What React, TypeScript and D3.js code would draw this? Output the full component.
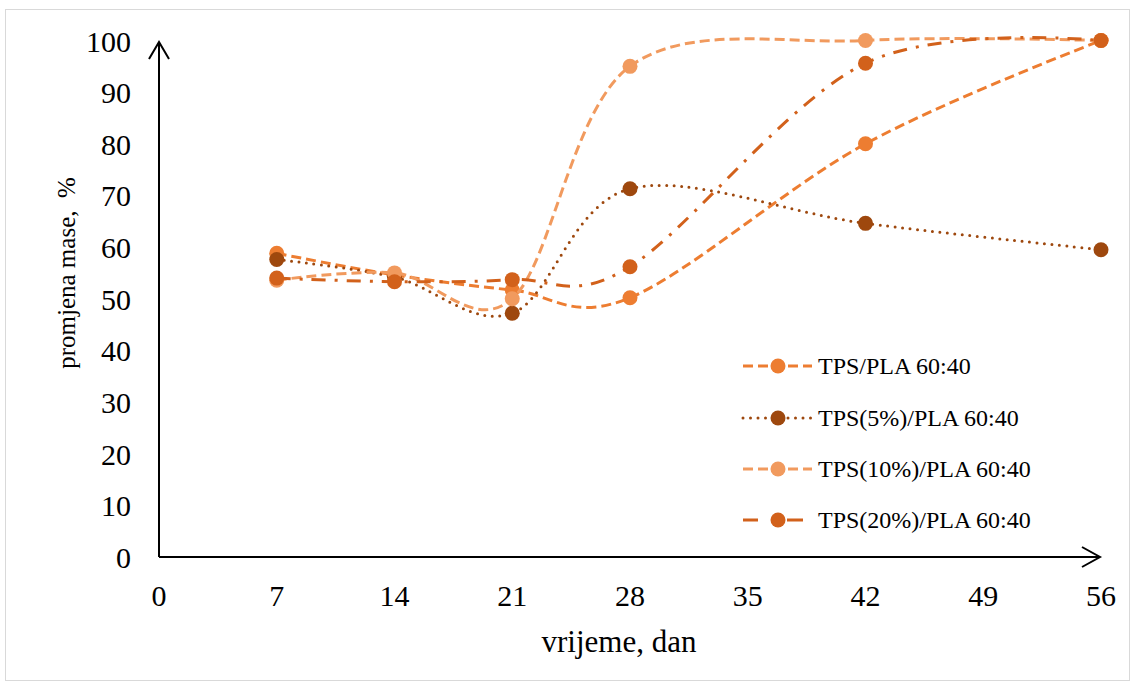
import React from "react";
import * as d3 from "d3";

const days = [7, 14, 21, 28, 42, 56];
const tpsPla = [58.8, 54.6, 51.7, 50.2, 80.0, 100];
const tps5 = [57.6, 54.2, 47.2, 71.3, 64.6, 59.5];
const tps10 = [53.6, 55.0, 50.0, 95.0, 100, 100];
const tps20 = [54.0, 53.3, 53.7, 56.2, 95.6, 100];
const xTicks = [0, 7, 14, 21, 28, 35, 42, 49, 56];
const yTicks = [0, 10, 20, 30, 40, 50, 60, 70, 80, 90, 100];
const seriesNames = ["TPS/PLA 60:40", "TPS(5%)/PLA 60:40", "TPS(10%)/PLA 60:40", "TPS(20%)/PLA 60:40"];

const W = 1135;
const H = 686;
const FONT = "'Liberation Serif', 'Times New Roman', serif";

const series = [
  { name: seriesNames[0], values: tpsPla, color: "#ED7D31", dash: "10 5", legendDash: "10 5", cap: "butt" },
  { name: seriesNames[1], values: tps5, color: "#9E480E", dash: "0 7.5", legendDash: "0 7.5", cap: "round" },
  { name: seriesNames[2], values: tps10, color: "#F19A5E", dash: "10 5", legendDash: "10 5", cap: "butt" },
  { name: seriesNames[3], values: tps20, color: "#D2611B", dash: "14 9 3 9", legendDash: "15 29 16 100", cap: "butt" },
];

export default function App() {
  const x = d3.scaleLinear().domain([0, 56]).range([159, 1101]);
  const y = d3.scaleLinear().domain([0, 100]).range([557, 40.5]);
  const line = d3
    .line<[number, number]>()
    .x((d) => x(d[0]))
    .y((d) => y(d[1]))
    .curve(d3.curveCardinal.tension(0));

  const legendX0 = 743;
  const legendX1 = 812;
  const legendYs = [366, 418, 469, 520];

  return (
    <svg
      width={W}
      height={H}
      style={{ position: "absolute", left: 0, top: 0, background: "#fff" }}
      fontFamily={FONT}
    >
      <rect x={5.5} y={9.5} width={1124} height={671} fill="#fff" stroke="#D9D9D9" strokeWidth={1} />

      {/* axes */}
      <g stroke="#000" strokeWidth={2} fill="none">
        <line x1={x(0)} y1={y(0)} x2={x(0)} y2={42} />
        <polyline points={`${x(0) - 10},59 ${x(0)},42 ${x(0) + 10},59`} />
        <line x1={x(0)} y1={y(0)} x2={1100} y2={y(0)} />
        <polyline points={`1082,${y(0) - 10} 1100,${y(0)} 1082,${y(0) + 10}`} />
      </g>

      {/* y tick labels */}
      {yTicks.map((t) => (
        <text key={"y" + t} x={131} y={y(t) + 11} fontSize={30} textAnchor="end" fill="#000">
          {t}
        </text>
      ))}
      {/* x tick labels */}
      {xTicks.map((t) => (
        <text key={"x" + t} x={x(t)} y={606} fontSize={30} textAnchor="middle" fill="#000">
          {t}
        </text>
      ))}

      <text x={619} y={652} fontSize={31} textAnchor="middle" fill="#000">
        vrijeme, dan
      </text>
      <text
        transform={`translate(75,273) rotate(-90)`}
        fontSize={25}
        textAnchor="middle"
        fill="#000"
        style={{ whiteSpace: "pre" }}
      >
        {"promjena mase,  %"}
      </text>

      {/* series */}
      {series.map((s) => {
        const pts = days.map((d, i) => [d, s.values[i]] as [number, number]);
        return (
          <g key={s.name}>
            <path
              d={line(pts) || ""}
              fill="none"
              stroke={s.color}
              strokeWidth={3}
              strokeDasharray={s.dash}
              strokeLinecap={s.cap as any}
            />
            {pts.map((p, i) => (
              <circle key={i} cx={x(p[0])} cy={y(p[1])} r={7.5} fill={s.color} />
            ))}
          </g>
        );
      })}

      {/* legend */}
      {series.map((s, i) => {
        const ly = legendYs[i];
        return (
          <g key={"lg" + i}>
            <line
              x1={legendX0}
              y1={ly}
              x2={legendX1}
              y2={ly}
              stroke={s.color}
              strokeWidth={3}
              strokeDasharray={s.legendDash}
              strokeLinecap={s.cap as any}
            />
            <circle cx={778} cy={ly} r={7.5} fill={s.color} />
            <text x={818} y={ly + 8} fontSize={24} fill="#000">
              {s.name}
            </text>
          </g>
        );
      })}
    </svg>
  );
}
